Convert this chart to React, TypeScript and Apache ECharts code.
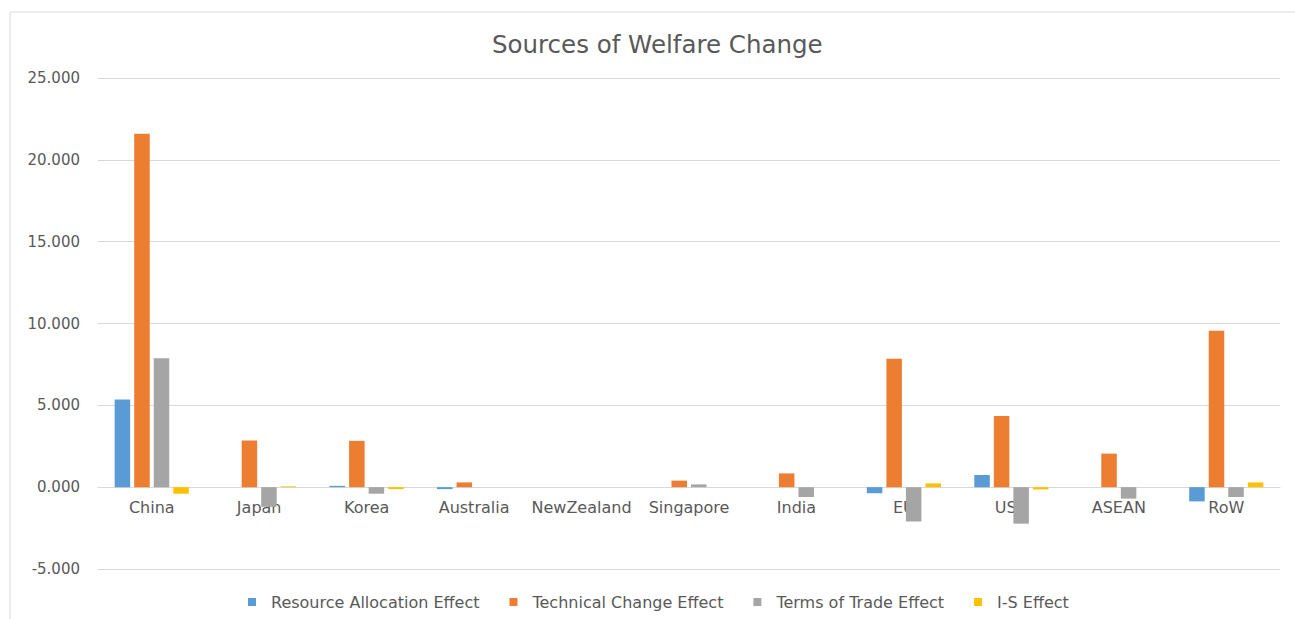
import React, { useEffect, useRef } from "react";
import * as echarts from "echarts";

const categories = ["China", "Japan", "Korea", "Australia", "NewZealand", "Singapore", "India", "EU", "USA", "ASEAN", "RoW"];
const resourceAllocation = [5.36, 0.0, 0.08, -0.12, 0.0, 0.0, 0.0, -0.37, 0.74, 0.0, -0.87];
const technicalChange = [21.6, 2.85, 2.83, 0.29, 0.0, 0.4, 0.84, 7.85, 4.35, 2.05, 9.55];
const termsOfTrade = [7.88, -1.2, -0.4, 0.0, 0.0, 0.17, -0.6, -2.1, -2.23, -0.7, -0.6];
const isEffect = [-0.4, 0.05, -0.12, 0.0, 0.0, 0.0, 0.0, 0.23, -0.14, 0.0, 0.29];

const seriesNames = ["Resource Allocation Effect", "Technical Change Effect", "Terms of Trade Effect", "I-S Effect"];
const colors = ["#5B9BD5", "#ED7D31", "#A5A5A5", "#FFC000"];

const FONT = "'DejaVu Sans', sans-serif";

export default function App() {
  const ref = useRef<HTMLDivElement>(null);
  useEffect(() => {
    if (!ref.current) return;
    const chart = echarts.init(ref.current, undefined, { renderer: "svg" });
    const data = [resourceAllocation, technicalChange, termsOfTrade, isEffect];
    chart.setOption({
      animation: false,
      backgroundColor: "#ffffff",
      title: {
        text: "Sources of Welfare Change",
        left: 487,
        top: 27,
        textStyle: { fontFamily: FONT, fontSize: 24.5, fontWeight: "normal", color: "#595959" },
      },
      graphic: [
        {
          type: "rect",
          shape: { x: 10, y: 12, width: 1300, height: 640 },
          style: { fill: "none", stroke: "#D9D9D9", lineWidth: 1 },
          silent: true,
        },
      ],
      legend: {
        bottom: 4,
        left: 243,
        itemWidth: 8,
        itemHeight: 8,
        itemGap: 30,
        icon: "rect",
        textStyle: { fontFamily: FONT, fontSize: 16, color: "#595959", padding: [0, 0, 0, 10] },
        data: seriesNames,
      },
      grid: { left: 98, right: 15, top: 78, bottom: 50, containLabel: false },
      xAxis: {
        type: "category",
        data: categories,
        offset: -82,
        axisLine: { onZero: false, lineStyle: { color: "#D9D9D9", width: 1 } },
        axisTick: { show: false },
        axisLabel: { fontFamily: FONT, fontSize: 16, color: "#595959", margin: 12, interval: 0 },
      },
      yAxis: {
        type: "value",
        min: -5,
        max: 25,
        interval: 5,
        axisLine: { show: false },
        axisTick: { show: false },
        splitLine: { lineStyle: { color: "#D9D9D9", width: 1 } },
        axisLabel: {
          fontFamily: FONT,
          fontSize: 15,
          color: "#595959",
          margin: 18,
          formatter: (v: number) => v.toFixed(3),
        },
      },
      series: seriesNames.map((name, i) => ({
        name,
        type: "bar",
        data: data[i],
        itemStyle: { color: colors[i] },
        barGap: "26%",
        barCategoryGap: "31%",
      })),
    });
    return () => chart.dispose();
  }, []);
  return <div ref={ref} style={{ position: "fixed", left: 0, top: 0, width: 1295, height: 619 }} />;
}
